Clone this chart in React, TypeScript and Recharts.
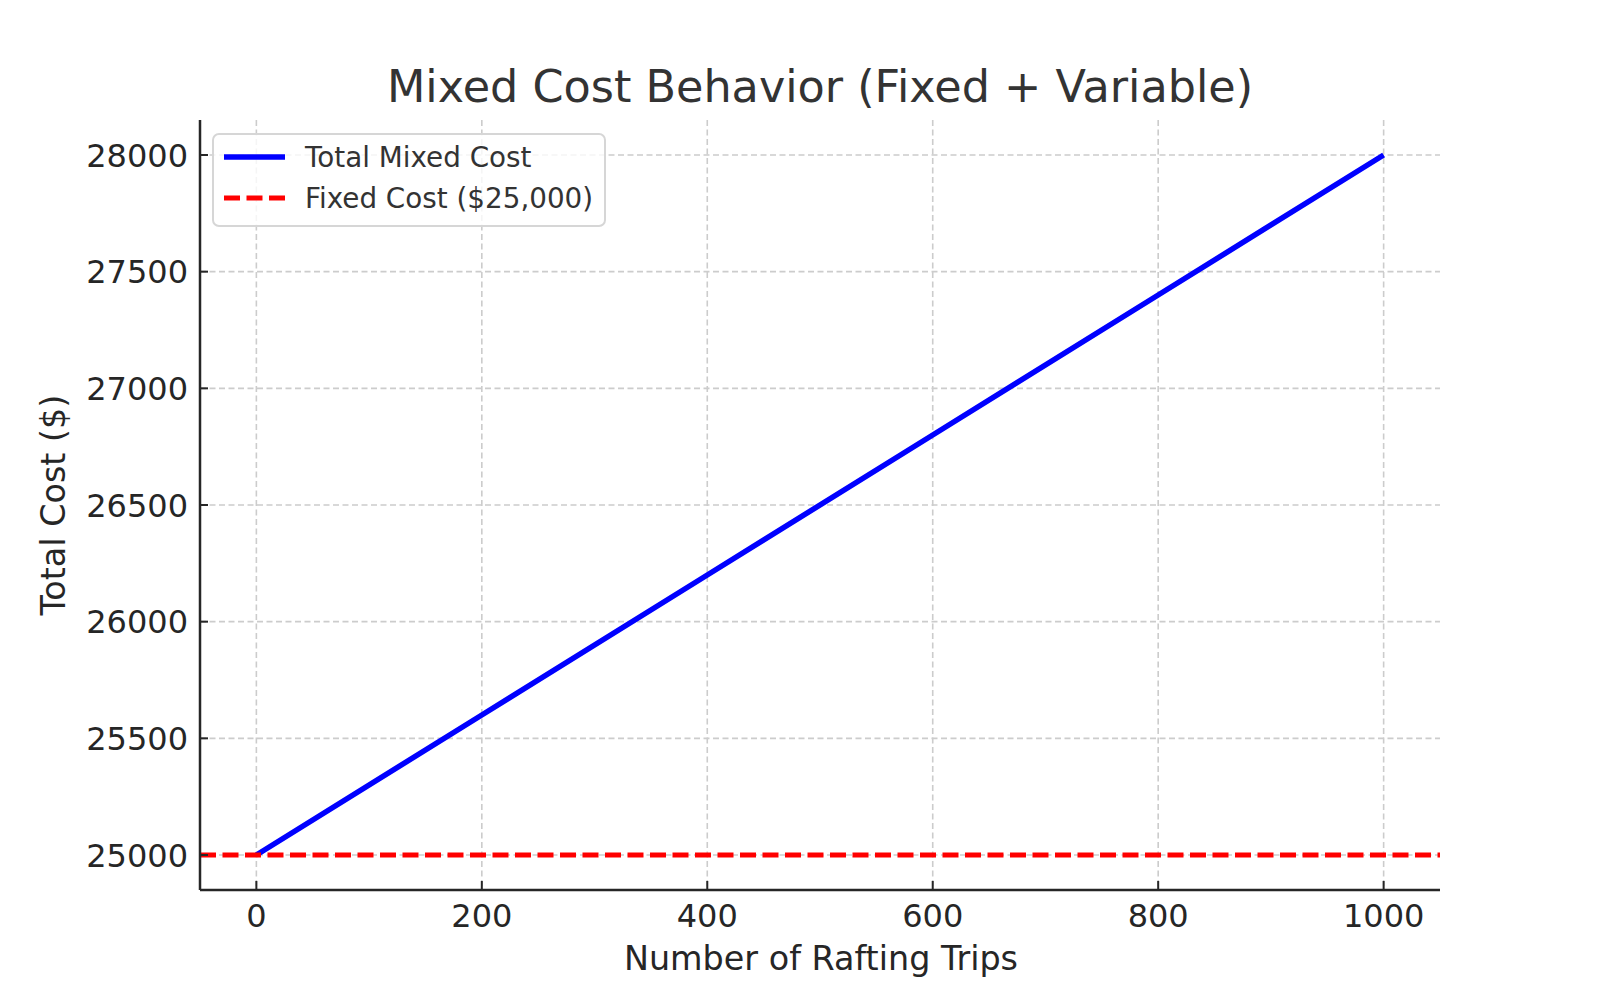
import { CartesianGrid, Legend, Line, LineChart, ReferenceLine, XAxis, YAxis } from 'recharts'

// values
const trips = [0, 200, 400, 600, 800, 1000]
const totalMixedCost = [25000, 25600, 26200, 26800, 27400, 28000]
const fixedCost = 25000

const xTicks = [0, 200, 400, 600, 800, 1000]
const yTicks = [25000, 25500, 26000, 26500, 27000, 27500, 28000]
const legendLabels = ['Total Mixed Cost', 'Fixed Cost ($25,000)']

const data = trips.map((t, i) => ({ trips: t, total: totalMixedCost[i] }))

const FONT = '"DejaVu Sans", sans-serif'
const INK = '#262626'
const BLUE = '#0000ff'
const RED = '#ff0000'
const DASH = '16 6.5'

function YTick(props: any) {
  const { x, y, payload } = props
  return (
    <g>
      <line x1={x + 12} x2={x + 20} y1={y} y2={y} stroke={INK} strokeWidth={2} />
      <text x={x} y={y} dy={11.5} textAnchor="end" fontSize={32} fontFamily={FONT} fill={INK}>
        {payload.value}
      </text>
    </g>
  )
}

function XTick(props: any) {
  const { x, y, payload } = props
  return (
    <g>
      <line x1={x} x2={x} y1={y - 12} y2={y - 21} stroke={INK} strokeWidth={2} />
      <text x={x} y={y} dy={25} textAnchor="middle" fontSize={32} fontFamily={FONT} fill={INK}>
        {payload.value}
      </text>
    </g>
  )
}

function LegendBox() {
  const rows = [
    { label: legendLabels[0], color: BLUE, dash: undefined, width: 5.5 },
    { label: legendLabels[1], color: RED, dash: DASH, width: 5 },
  ]
  return (
    <svg width={394} height={94} style={{ display: 'block' }}>
      <rect x={1} y={1} width={392} height={92} rx={6} fill="rgba(255,255,255,0.8)" stroke="#d6d6d6" strokeWidth={2} />
      {rows.map((r, i) => (
        <g key={r.label}>
          <line x1={12} x2={73} y1={24 + i * 41} y2={24 + i * 41} stroke={r.color} strokeWidth={r.width} strokeDasharray={r.dash} />
          <text x={93} y={24 + i * 41} dy={10.2} fontSize={27.8} fontFamily={FONT} fill="#333">
            {r.label}
          </text>
        </g>
      ))}
    </svg>
  )
}

export default function App() {
  return (
    <div style={{ width: 1600, height: 1000, position: 'relative', background: '#fff' }}>
      <style>{'body{margin:0}'}</style>
      <LineChart width={1600} height={1000} data={data} margin={{ top: 120, right: 160, bottom: 30, left: 0 }}>
        <CartesianGrid stroke="#cccccc" strokeWidth={1.6} strokeDasharray="6 3.5" syncWithTicks />
        <XAxis
          dataKey="trips"
          type="number"
          domain={[-50, 1050]}
          ticks={xTicks}
          height={80}
          axisLine={{ stroke: INK, strokeWidth: 2.5 }}
          tickLine={false}
          tickSize={0}
          tickMargin={12}
          tick={<XTick />}
          interval={0}
          allowDataOverflow
        />
        <YAxis
          type="number"
          domain={[24850, 28150]}
          ticks={yTicks}
          width={200}
          axisLine={{ stroke: INK, strokeWidth: 2.5 }}
          tickLine={false}
          tickSize={0}
          tickMargin={12}
          tick={<YTick />}
          interval={0}
          allowDataOverflow
        />
        <Line
          dataKey="total"
          stroke={BLUE}
          strokeWidth={5.5}
          dot={false}
          activeDot={false}
          isAnimationActive={false}
        />
        <ReferenceLine y={fixedCost} stroke={RED} strokeWidth={5} strokeDasharray={DASH} />
        <Legend
          layout="vertical"
          align="center"
          verticalAlign="middle"
          content={() => <LegendBox />}
          wrapperStyle={{ left: 212, top: 133, width: 394, height: 94 }}
        />
        <text x={820} y={102} textAnchor="middle" fontSize={44.5} fontFamily={FONT} fill="#333">
          Mixed Cost Behavior (Fixed + Variable)
        </text>
        <text x={821} y={970} textAnchor="middle" fontSize={33.4} fontFamily={FONT} fill={INK}>
          Number of Rafting Trips
        </text>
        <text x={65} y={505} transform="rotate(-90 65 505)" textAnchor="middle" fontSize={33.4} fontFamily={FONT} fill={INK}>
          Total Cost ($)
        </text>
      </LineChart>
    </div>
  )
}
